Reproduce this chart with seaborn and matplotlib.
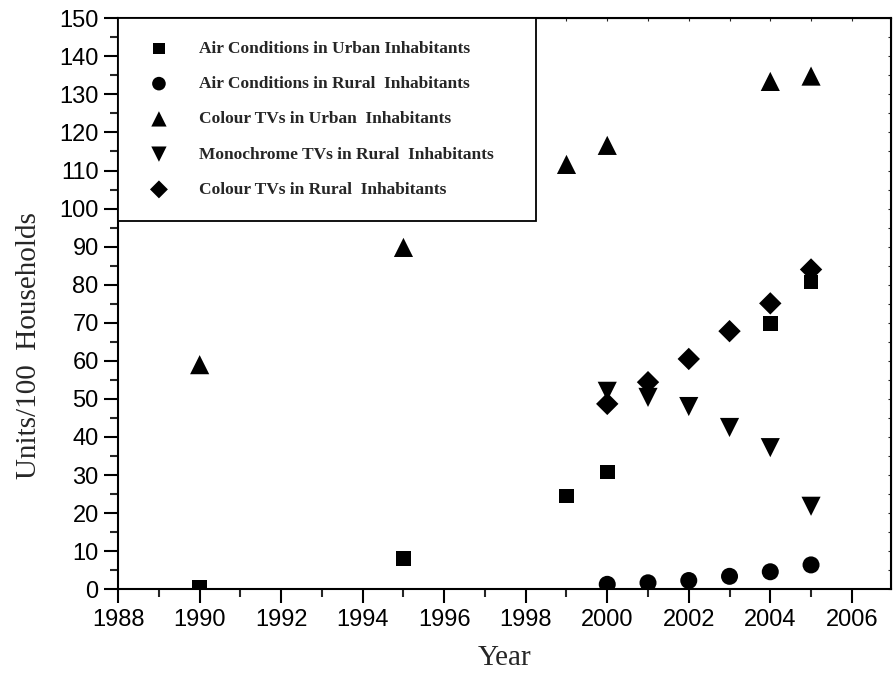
import pandas as pd
import matplotlib.pyplot as plt
import seaborn as sns
import numpy as np

# data (units per 100 households)
yrs_ac_urban = [1990, 1995, 1999, 2000, 2004, 2005]
ac_urban = [0.5, 8.1, 24.5, 30.8, 69.8, 80.7]

yrs_ac_rural = [2000, 2001, 2002, 2003, 2004, 2005]
ac_rural = [1.3, 1.7, 2.3, 3.4, 4.6, 6.4]

yrs_ctv_urban = [1990, 1995, 1999, 2000, 2004, 2005]
ctv_urban = [59.0, 89.8, 111.6, 116.6, 133.4, 134.8]

yrs_mtv_rural = [2000, 2001, 2002, 2003, 2004, 2005]
mtv_rural = [52.0, 50.4, 48.0, 42.5, 37.2, 21.8]

yrs_ctv_rural = [2000, 2001, 2002, 2003, 2004, 2005]
ctv_rural = [48.7, 54.4, 60.5, 67.8, 75.1, 84.0]

labels = ['Air Conditions in Urban Inhabitants',
          'Air Conditions in Rural  Inhabitants',
          'Colour TVs in Urban  Inhabitants',
          'Monochrome TVs in Rural  Inhabitants',
          'Colour TVs in Rural  Inhabitants']

frames = []
for lab, x, y in zip(labels,
                     [yrs_ac_urban, yrs_ac_rural, yrs_ctv_urban, yrs_mtv_rural, yrs_ctv_rural],
                     [ac_urban, ac_rural, ctv_urban, mtv_rural, ctv_rural]):
    frames.append(pd.DataFrame({'Year': x, 'Value': y, 'Series': lab}))
df = pd.concat(frames, ignore_index=True)

sns.set_style("ticks")
plt.rcParams['font.family'] = ['Liberation Sans', 'DejaVu Sans']

fig = plt.figure(figsize=(8.95, 6.75), dpi=100)
ax = fig.add_axes([0.132, 0.127, 0.863, 0.846])

marks = ['s', 'o', '^', 'v', 'D']
sizes = [110, 150, 190, 190, 130]
for lab, m, s in zip(labels, marks, sizes):
    sub = df[df['Series'] == lab]
    sns.scatterplot(data=sub, x='Year', y='Value', marker=m, s=s, color='black',
                    edgecolor='none', ax=ax, label=lab, legend=False)

ax.set_xlim(1988, 2006.95)
ax.set_ylim(0, 150)
ax.set_xticks(np.arange(1988, 2007, 2))
ax.set_xticks(np.arange(1989, 2007, 2), minor=True)
ax.set_yticks(np.arange(0, 151, 10))
ax.set_yticks(np.arange(5, 150, 10), minor=True)
ax.tick_params(axis='both', which='major', direction='out', length=10, width=1.5,
               labelsize=17, colors='black', pad=4)
ax.tick_params(axis='both', which='minor', direction='out', length=6, width=1.5)
ax.tick_params(top=False, right=False, which='both')
for sp in ax.spines.values():
    sp.set_linewidth(1.5)
    sp.set_color('black')

# tiny inward ticks on top and right
ax2 = ax.secondary_xaxis('top')
ax2.set_xticks(np.arange(1988, 2007, 1))
ax2.tick_params(direction='in', length=2, labeltop=False)
ax2.set_xticklabels([])
ax3 = ax.secondary_yaxis('right')
ax3.set_yticks(np.arange(0, 151, 5))
ax3.tick_params(direction='in', length=2)
ax3.set_yticklabels([])

ax.set_xlabel('Year', fontsize=21, family='Liberation Serif', labelpad=10)
ax.set_ylabel('Units/100  Households', fontsize=21, family='Liberation Serif')
ax.yaxis.set_label_coords(-0.098, 0.426)

h, l = ax.get_legend_handles_labels()
leg = ax.legend(h, l, loc='upper left', bbox_to_anchor=(0, 1, 0.541, 0), mode='expand',
                borderaxespad=0, frameon=True, fancybox=False, edgecolor='black',
                framealpha=1,
                prop={'family': 'Liberation Serif', 'weight': 'bold', 'size': 12.5},
                labelspacing=1.1, handlelength=2.1, handletextpad=1.24,
                borderpad=1.3, markerscale=0.8)
leg.get_frame().set_linewidth(1.3)

fig.savefig('out.png', dpi=100)
